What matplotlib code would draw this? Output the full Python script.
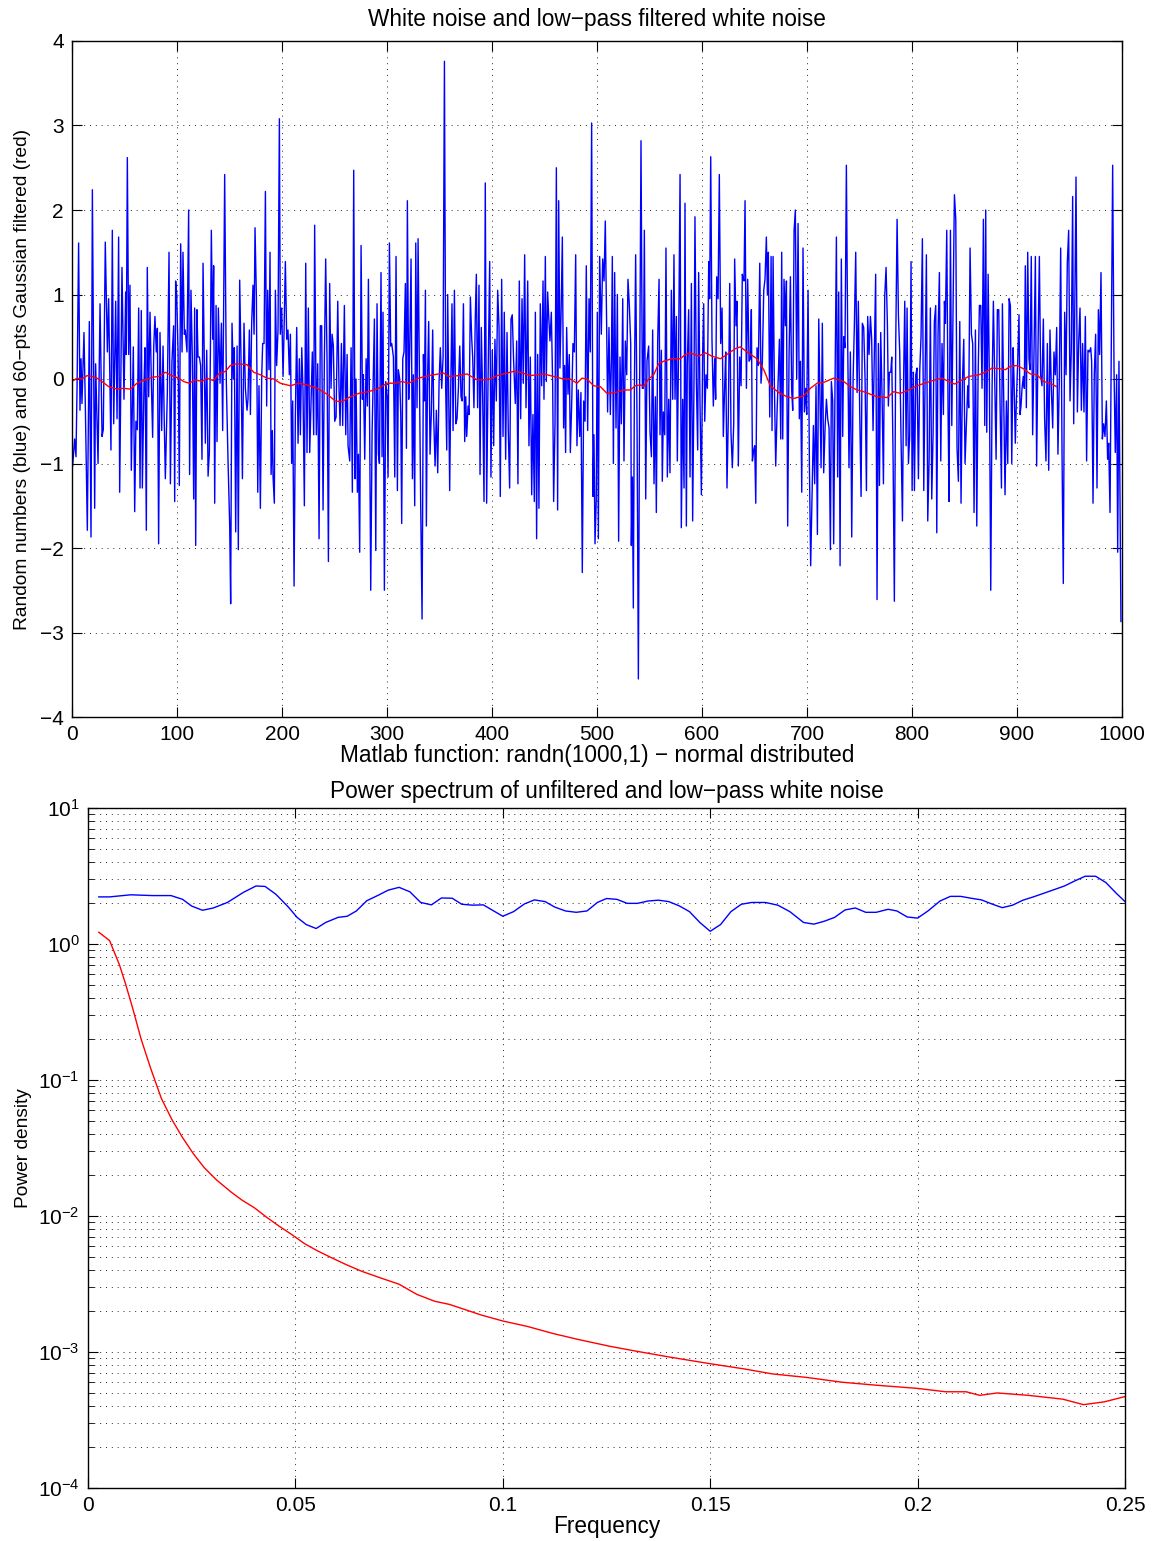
import matplotlib
matplotlib.use('Agg')
import matplotlib.pyplot as plt
from matplotlib.ticker import FixedLocator, LogLocator, NullFormatter, FuncFormatter

plt.rcParams['font.family'] = ['Liberation Sans', 'DejaVu Sans']

# ---------------- data: top panel (white noise) ----------------
noise_seg1 = [(0.6,-1.03),(2.5,-0.71),(3.8,-0.92),(4.8,-0.11),(6.3,1.61),(7.6,-0.37),(8.6,0.24),(9.5,-0.29),(11.4,0.55),(12.7,-0.32),(14.6,-1.79),(16.5,0.68),(18.1,-1.87),(19.4,2.24),(21.6,-1.53),(22.5,0.18),(24.8,-1.0),(26.7,0.89),(28.6,-0.68),(29.8,-0.6),(31.7,1.62),(33.7,0.32),(34.9,0.95),(37.1,-0.84),(38.4,1.76),(39.7,-0.53),(41.6,0.92),(42.9,-0.47),(44.4,1.68),(45.4,-1.34),(47.6,1.32),(49.5,-0.24),(51.1,1.03),(51.7,0.29),(52.7,2.62),(54,0.29),(55.2,1.11),(56.5,-1.08),(58.4,0.38),(59.7,-1.57),(60.9,-0.5),(62.2,-0.6),(63.5,0.84),(64.8,-1.29),(66,0.81),(67,-1.29),(68.6,-0.05),(69.5,0.37),(70.8,-1.79),(71.7,1.32),(73,-0.21),(74.3,0.79),(75.6,-0.05),(76.8,-0.69),(77.8,0.37),(79,0.74),(80.3,0.32),(81.3,0.6),(82.5,-1.95),(83.8,0.55),(85.4,-0.61),(86.7,0.39),(87.9,-0.53),(88.9,-1.18),(90.8,-0.16),(92.4,1.5),(93.7,-1.24),(95.2,0.21),(96.8,0.63),(97.8,-1.45),(98.7,1.16),(99.7,1.0),(101,0.32),(102.2,-1.26),(103.5,1.6),(104.8,0.32),(105.7,1.5),(107,0.53),(107.9,0.58),(109.5,0.32),(111.1,2.0),(112,-1.13),(113.3,1.05),(114.6,0.26),(115.9,-1.42),(116.8,0.84),(117.8,-1.97),(119,0.82),(120,0.26),(121.3,0.26),(122.5,0.16),(123.8,-0.95),(124.8,1.37)]
noise_seg2 = [(127.0,-0.76),(128.3,0.34),(129.6,-1.15),(130.8,-0.87),(131.8,0.32),(132.7,1.76),(134.0,0.47),(134.9,1.34),(135.9,-1.47),(137.2,0.87),(138.1,-0.74),(139.4,0.84),(141.0,-0.05),(142.3,0.66),(143.5,-0.61),(145.4,2.42),(147.0,-0.05),(148.6,-0.97),(150.2,-1.74),(151.1,-2.66),(152.4,0.66),(153.7,0.0),(154.6,0.37),(155.9,-1.81),(157.2,0.39),(158.4,-2.02),(159.7,1.17),(161.0,0.21),(162.3,-1.18),(163.8,0.66),(165.1,-0.11),(166.7,-0.37),(167.6,-0.24),(168.9,0.58),(169.9,-0.42),(171.1,0.66),(172.4,1.11),(173.4,0.53),(174.3,1.79),(175.6,0.97),(176.9,-1.34),(178.1,-0.08),(179.4,-1.53),(180.7,0.05),(181.6,0.42),(182.9,0.42),(184.2,2.22),(185.4,-0.32),(186.4,1.05),(187.6,0.11),(188.6,1.5),(189.6,-1.13),(190.8,-0.61),(191.5,-1.16),(192.7,-1.47),(193.7,1.05),(194.9,0.16),(196.2,0.58),(197.5,3.08),(198.4,0.53),(199.7,0.84),(201.0,0.03),(201.9,0.53),(203.2,1.39),(204.5,0.47),(205.7,0.58),(207.0,0.05),(208.0,0.53),(209.2,-1.0),(210.2,-0.26),(211.5,-2.45),(212.7,-0.47),(214.0,0.61),(215.3,-0.76),(216.5,0.24),(217.5,-0.66),(218.8,0.37),(220.0,-0.13),(221.3,-1.5),(222.6,1.37),(223.8,-0.87),(225.1,0.84),(226.4,-0.87),(227.6,-0.29),(228.9,0.32),(230.2,-0.66),(231.1,1.82),(232.7,-0.66),(234.0,0.18),(235.3,-1.89),(236.5,0.63),(237.8,0.63),(239.1,-1.55),(240.3,0.18),(241.6,1.42),(242.9,0.21),(244.2,-2.16),(245.4,1.13),(246.7,-0.11),(247.7,0.53)]
noise_seg3 = [(248.9,0.39),(250.2,-0.5),(251.5,-0.45),(253.1,0.92),(254.3,-0.11),(255.3,-0.55),(256.6,0.42),(257.8,-0.55),(259.4,0.87),(260.7,-0.66),(262.0,0.29),(262.9,-0.79),(264.5,-0.97),(265.8,0.37),(267.0,-1.34),(268.3,2.47),(269.6,-1.18),(270.5,0.0),(271.8,-1.34),(272.8,-0.89),(274.0,-2.05),(275.3,1.58),(276.6,-0.24),(277.5,0.05),(278.8,-0.95),(280.1,0.24),(281.3,-0.32),(282.3,1.18),(283.5,-0.61),(284.5,-2.5),(285.8,-0.63),(286.7,-0.11),(288.0,0.71),(289.3,-2.03),(290.5,0.89),(291.8,-0.89),(292.8,-1.0),(294.3,1.26),(295.3,-0.92),(296.2,0.79),(297.5,-2.5),(298.8,-0.03),(300.1,-0.21),(301.0,-1.16),(302.3,1.61),(303.5,0.39),(304.5,0.42),(306.1,0.26),(307.4,-1.16),(308.6,1.45),(309.9,-1.32),(310.8,0.11),(312.1,0.0),(313.1,-0.42),(314.0,-1.71),(315.0,0.24),(316.2,0.32),(317.5,1.13),(318.5,-0.82),(319.4,2.11),(320.7,-0.24),(321.6,0.32),(322.9,1.42),(324.2,-1.18),(325.1,0.05),(326.4,-1.5),(327.4,1.61),(328.6,-0.34),(329.6,1.66),(330.8,0.16),(332.1,-1.5),(333.4,-2.84),(334.7,0.29),(335.6,-0.26),(336.6,1.05),(337.5,-1.74),(338.5,-0.08),(339.7,0.68),(341.0,-0.89),(342.3,-0.37),(343.5,0.58),(344.5,-0.47),(345.8,-1.03),(347.0,-0.37),(348.3,-1.11),(349.6,-0.03),(350.8,0.37),(352.1,-0.11),(353.4,0.26),(354.7,3.76),(355.9,-0.11),(356.9,-0.84),(357.8,1.0),(359.7,-1.32),(360.7,-0.11),(361.9,0.89),(362.9,-0.61),(364.2,1.05),(365.5,-0.53),(366.7,-0.47),(368.0,-0.11),(369.3,0.39),(370.5,-0.21),(371.5,-0.26),(372.8,0.89),(374.0,-0.74),(375.0,-0.21),(375.9,-0.68),(377.2,-0.32),(378.2,-0.42),(379.4,0.97),(380.7,0.47),(381.6,0.26)]
noise_seg4 = [(382.8,-0.34),(384.1,0.74),(385.1,1.24),(386.3,-0.34),(387.6,1.11),(388.6,-1.13),(389.8,0.61),(391.1,-0.21),(392.4,-1.45),(393.6,2.32),(394.9,-1.47),(396.2,-0.05),(397.8,1.39),(399.0,-1.16),(400.3,0.34),(401.6,-0.79),(402.8,0.47),(404.1,-0.26),(405.4,1.05),(406.7,0.61),(407.9,-1.39),(409.2,1.18),(410.5,-0.68),(411.7,0.79),(413.0,-0.95),(414.3,0.55),(415.5,-0.61),(416.8,-1.29),(418.1,0.71),(419.3,0.76),(420.6,0.21),(422.2,-0.29),(423.5,0.45),(424.7,-1.24),(426.0,1.16),(427.3,-0.47),(428.6,0.95),(429.8,-0.05),(431.1,1.47),(432.4,-0.34),(434.0,1.16),(435.2,-0.79),(436.5,0.26),(437.8,-1.37),(439.0,-0.42),(440.3,-1.45),(441.3,0.79),(442.5,-1.89),(443.5,0.29),(444.7,-1.53),(446.0,0.89),(447.3,-0.08),(448.6,1.16),(449.5,-0.24),(450.8,1.45),(451.7,-0.03),(453.0,1.03),(454.0,0.74),(455.2,0.45),(456.5,0.79),(457.8,-0.08),(458.7,-1.45),(460.0,-0.53),(461.3,2.5),(462.5,-1.55),(463.5,2.11),(464.7,0.13),(466.0,0.92),(467.0,1.68),(468.2,-0.58),(469.2,0.16),(470.1,-0.87),(471.1,0.61),(472.4,-0.18),(473.6,0.29),(474.6,-0.87),(475.9,-0.29),(477.1,0.42),(478.4,0.32),(479.7,1.47),(480.9,-0.79),(482.2,-0.13),(483.5,-0.68),(484.7,-0.16),(486.0,-2.29),(487.3,-0.26),(488.6,-0.5),(489.8,1.34),(491.1,-0.61),(492.4,0.95),(493.6,0.32),(494.9,3.03),(496.2,-1.39),(497.1,-0.66),(498.1,-1.95),(499.3,-1.42),(500.3,0.79),(501.3,-1.89),(502.5,1.45),(504.1,0.53),(505.4,1.42),(506.7,1.16),(507.9,1.87),(509.2,0.63),(510.1,-0.39)]
noise_seg5 = [(511.4,0.61),(512.7,-0.42),(513.7,0.21),(514.6,1.45),(515.6,-1.0),(516.8,1.26),(518.1,-0.58),(519.4,1.0),(520.6,-1.92),(521.9,0.26),(523.2,-0.53),(524.5,0.95),(525.7,-0.97),(527.0,0.45),(528.3,0.05),(529.5,1.18),(530.8,0.87),(532.1,0.42),(532.7,-1.97),(533.7,-1.16),(534.6,-2.71),(535.6,-0.11),(536.8,1.47),(538.1,-0.47),(539.4,-3.55),(540.6,-0.11),(541.9,2.82),(543.2,-0.11),(544.1,-0.11),(545.1,1.76),(546.4,-1.42),(547.6,0.21),(549.2,0.39),(550.5,-0.63),(551.8,-0.92),(553.0,0.58),(554.3,-1.24),(555.6,-0.21),(556.5,-1.58),(557.8,0.45),(559.1,1.18),(560.0,-0.66),(561.3,0.34),(562.2,-1.21),(563.2,-0.39),(564.5,-0.66),(565.7,1.55),(567.0,-1.16),(568.3,-0.24),(569.5,-1.11),(570.8,1.05),(572.1,-0.24),(573.3,1.47),(574.3,-0.24),(575.6,0.74),(576.5,-0.97),(577.8,0.47),(579.1,2.42),(580.3,-1.76),(581.6,-0.24),(582.9,-1.29),(583.8,2.08),(585.1,-1.74),(586.0,0.18),(587.3,0.82),(588.6,-1.16),(589.9,1.13),(591.1,-1.68),(592.4,0.0),(593.3,1.92),(594.6,0.0),(595.9,-0.84),(596.8,1.26),(598.1,-0.29),(599.4,-1.37),(600.6,0.29),(601.6,0.89),(602.6,-0.5),(603.8,0.05),(605.1,-0.11),(606.4,1.39),(607.3,0.95),(608.3,2.63),(609.5,0.47),(610.8,-0.32),(612.1,0.24),(613.0,-0.24),(614.0,1.21),(615.3,0.95),(616.5,2.42),(617.8,0.42),(619.1,0.84),(620.3,-0.68),(621.6,-0.08),(622.6,0.32),(623.8,-1.29),(625.1,-0.42),(626.4,1.13),(627.6,-0.63),(628.9,-1.05),(630.2,-0.53),(631.1,1.42),(632.4,0.63),(633.3,0.92),(634.6,-1.03),(635.9,0.26),(637.2,-0.08),(638.4,1.24)]
noise_seg6 = [(638.8,1.21),(640.0,1.16),(641.0,2.11),(642.3,-0.11),(643.5,1.18),(644.8,0.21),(646.1,0.24),(647.0,0.82),(648.0,-0.97),(649.2,-0.84),(650.2,-0.79),(651.2,-1.47),(652.4,0.37),(653.7,0.16),(655.0,1.37),(656.2,-0.05),(657.5,0.21),(658.8,1.05),(660.0,1.18),(661.3,1.68),(662.3,1.0),(663.2,1.5),(664.5,-0.45),(665.8,1.45),(666.7,-0.61),(667.7,1.45),(668.9,-0.05),(670.2,-1.03),(671.5,-0.39),(672.7,0.05),(673.7,0.47),(675.0,-0.71),(675.9,1.5),(676.9,-0.71),(678.1,1.18),(679.4,0.63),(680.4,1.16),(681.6,-1.74),(682.9,0.26),(684.2,1.21),(685.4,-0.13),(686.4,-0.37),(687.7,1.76),(688.9,2.0),(690.2,0.0),(691.5,1.84),(692.7,-0.47),(693.7,0.21),(695.0,-1.34),(696.2,1.55),(697.5,-0.39),(698.8,-0.11),(699.7,-0.42),(701.0,1.05),(702.3,-1.03),(703.5,-2.21),(704.8,-1.37),(706.1,-0.55),(707.3,-1.24),(708.6,-0.08),(709.9,-1.84),(711.2,0.71),(712.4,-0.26),(713.4,-1.05),(714.6,0.66),(715.9,-1.11),(717.2,-0.58),(718.5,-0.24),(719.7,-0.47),(721.0,-0.58),(722.3,-2.02),(723.2,-0.03),(724.5,-0.26),(725.4,-1.95),(726.7,-0.05),(728.0,1.68),(729.2,-1.16),(730.2,1.03),(731.5,-2.21),(732.7,1.42),(734.0,-0.68),(735.0,0.5),(736.2,0.37),(737.5,2.53),(738.8,0.39),(740.0,-1.05),(741.3,0.32),(742.6,-1.87),(743.9,0.0),(745.1,0.63),(746.4,1.5),(747.7,-0.16),(748.9,0.92),(750.2,-0.39),(751.5,-1.39),(752.7,0.66),(754.0,0.61),(755.3,0.0),(756.6,-1.32),(757.8,0.74),(759.1,0.29),(760.4,0.74),(761.6,0.47),(762.9,-0.61),(764.2,0.34),(765.4,1.24),(766.7,-2.61),(768.0,0.42)]
noise_seg7 = [(769.0,-1.26),(770.2,0.55),(771.5,-0.21),(772.8,-1.24),(774.0,0.97),(775.3,1.32),(776.6,0.63),(777.5,-0.32),(778.5,0.08),(779.8,0.08),(780.7,0.26),(782.0,-0.95),(783.2,-2.63),(784.5,0.42),(785.8,1.89),(787.1,0.74),(788.3,0.32),(789.6,-0.74),(790.9,-1.68),(792.1,0.08),(793.1,0.92),(794.4,-0.79),(795.3,0.84),(796.6,-1.0),(797.8,-0.68),(799.1,1.39),(800.1,-1.32),(801.3,0.08),(802.3,-1.32),(803.6,0.05),(804.8,0.13),(806.1,-1.18),(807.4,0.11),(808.6,0.5),(809.9,1.66),(811.2,-1.32),(812.5,0.03),(813.7,1.47),(815.0,-1.68),(816.3,-0.95),(817.5,0.84),(818.8,-1.42),(820.1,-0.63),(821.3,0.68),(822.6,0.87),(823.6,-1.82),(824.8,0.53),(826.1,1.26),(827.4,-0.97),(828.6,0.42),(829.9,-0.42),(830.9,0.92),(831.8,0.66),(833.1,1.76),(834.4,-0.45),(835.3,-1.45),(836.6,1.76),(837.9,-0.55),(839.1,0.84),(840.4,2.18),(841.7,1.89),(842.9,-0.82),(844.2,-1.21),(845.5,0.68),(846.7,-1.47),(848.0,-0.05),(849.3,0.47),(850.5,-1.0),(851.8,-0.53),(853.1,-0.08),(854.0,-0.34),(855.3,1.55),(856.6,0.53),(857.8,0.42),(859.1,-1.58),(860.4,0.58),(861.7,-1.74),(862.9,0.0),(864.2,0.87),(865.5,0.87),(866.7,-0.11),(868.0,1.89),(869.3,-0.55),(870.2,2.0),(871.2,-0.63),(872.5,1.24),(873.7,-0.03),(875.0,-2.5),(876.3,-0.08),(877.5,0.92),(878.8,-0.05),(880.1,-0.95),(881.3,0.82),(882.6,0.82),(883.9,-0.32),(885.2,-1.29),(886.1,0.89),(887.4,-0.26),(888.6,-1.37),(889.9,-0.26),(891.2,-1.0),(892.5,0.95),(893.7,0.87),(895.0,-1.0),(896.3,0.37)]
noise_seg8 = [(897.1,0.03),(898.4,-0.76),(899.4,-0.26),(900.6,0.18),(901.9,0.76),(902.9,-0.42),(903.8,-0.32),(904.8,-0.11),(906.0,0.03),(907.0,-0.11),(907.9,1.34),(908.9,-0.34),(910.2,1.5),(911.4,0.24),(912.4,0.11),(913.6,1.45),(914.9,-0.66),(916.2,0.32),(917.5,1.45),(918.7,-1.03),(920.0,0.37),(921.3,1.45),(922.5,0.05),(923.8,-0.08),(925.1,0.71),(926.3,-0.47),(927.6,-0.97),(928.9,0.42),(930.2,-1.08),(931.4,0.58),(932.7,-0.11),(934.0,-0.58),(935.2,0.32),(936.5,0.05),(937.8,0.61),(939.0,-0.89),(940.3,0.0),(941.6,1.55),(942.9,-0.92),(944.1,-2.42),(945.4,0.79),(946.7,0.05),(947.9,1.37),(949.2,1.76),(950.5,-0.26),(951.7,0.34),(953.0,2.16),(954.0,-0.53),(954.9,0.71),(956.2,2.39),(957.5,-0.39),(958.7,0.42),(960.0,0.84),(961.3,-0.37),(962.5,0.42),(963.8,-0.39),(965.1,0.74),(966.3,-0.97),(967.6,0.34),(968.9,0.32),(970.2,0.37),(971.1,0.21),(972.4,-1.47),(973.6,0.05),(974.9,0.53),(976.2,-1.29),(977.5,0.82),(978.7,0.29),(980.0,1.26),(981.3,-0.71),(982.5,-0.53),(983.8,-0.68),(985.1,-0.26),(986.3,-0.95),(987.3,-0.76),(988.6,-1.58),(989.8,0.42),(991.1,2.53),(992.4,0.11),(993.6,-0.87),(994.9,0.05),(995.9,-2.05),(997.1,0.21),(999.0,-2.87)]

# Gaussian filtered series (red)
filt_pts = [(0,-0.03),(4.8,0.01),(9.5,0.0),(14.3,0.04),(19,0.03),(23.8,0.01),(28.6,-0.03),(34.9,-0.09),(42.9,-0.12),(49.2,-0.11),(55.6,-0.12),(61.9,-0.05),(69.8,-0.01),(76.2,0.02),(82.5,0.03),(88.9,0.08),(95.2,0.04),(101.6,0.01),(106.3,-0.03),(111.7,-0.05),(117.5,-0.01),(123.8,-0.03),
            (128.6,0.01),(134.9,-0.02),(139.7,0.06),(146.1,0.09),(150.8,0.16),(157.2,0.18),(166.7,0.17),(173.0,0.08),(179.4,0.05),(185.7,0.01),(192.1,0.0),(198.4,-0.05),(208.0,-0.08),(215.9,-0.05),(223.8,-0.07),(233.4,-0.11),(242.9,-0.18),
            (250.8,-0.26),(257.2,-0.27),(263.5,-0.22),(273.1,-0.17),(282.6,-0.15),(292.1,-0.11),(300.1,-0.05),(308.0,-0.05),(314.3,-0.03),(320.7,-0.05),(330.2,0.01),(339.7,0.04),(349.3,0.06),(354.0,0.07),(358.8,0.03),(368.3,0.04),(376.2,0.06),
            (385.7,-0.01),(392,-0.01),(398.4,0.0),(404.7,0.04),(411.1,0.06),(420.6,0.09),(427,0.08),(436.5,0.04),(449.2,0.06),(458.7,0.03),(468.2,0.0),(474.6,0.0),(480.9,-0.05),(485.7,0.01),(490.5,0.0),(496.8,-0.08),(503.2,-0.09),
            (509.5,-0.17),(517.5,-0.16),(525.4,-0.13),(531.8,-0.13),(536.5,-0.08),(541.3,-0.07),(544.5,-0.09),(549.2,0.0),(554.0,0.05),(558.7,0.18),(563.5,0.21),(571.4,0.24),(579.4,0.24),(584.1,0.29),(588.9,0.31),(596.8,0.27),(603.2,0.31),(609.5,0.27),(617.5,0.24),(623.8,0.29),(631.8,0.36),
            (636.5,0.38),(642.9,0.32),(652.4,0.24),(658.8,0.11),(665.1,-0.08),(673.1,-0.16),(681.0,-0.21),(687.3,-0.23),(696.9,-0.2),(703.2,-0.11),(709.6,-0.05),(715.9,-0.04),(725.4,0.01),(735,-0.03),(741.3,-0.09),(747.7,-0.13),(754,-0.15),(760.4,-0.18),
            (766.7,-0.21),(776.3,-0.22),(782.6,-0.15),(789,-0.17),(796.9,-0.13),(804.8,-0.08),(814.4,-0.04),(822.3,-0.01),(828.6,0.01),(835,-0.03),(840.7,-0.06),(847.7,-0.01),(854,0.03),(863.6,0.05),(869.9,0.08),(876.3,0.13),(884.2,0.12),(889,0.11),
            (893.6,0.15),(900,0.16),(906.3,0.12),(912.7,0.06),(919,0.05),(925.4,-0.03),(931.7,-0.05),(937.5,-0.09)]

top_xticks = [0, 100, 200, 300, 400, 500, 600, 700, 800, 900, 1000]
top_yticks = [-4, -3, -2, -1, 0, 1, 2, 3, 4]

# ---------------- data: bottom panel (power spectra) ----------------
freq_blue = [0.0026,0.0052,0.0103,0.0155,0.02,0.0228,0.025,0.0276,0.0302,0.0336,0.0375,0.0405,0.0427,0.0453,0.0483,0.0504,0.0526,0.055,0.0573,0.0603,0.0625,0.0647,0.0672,0.0698,0.0724,0.075,0.0776,0.0802,0.0828,0.0852,0.0878,0.0901,0.0927,0.0953,0.0978,0.1,0.1026,0.1052,0.1076,0.1102,0.1125,0.1151,0.1177,0.1203,0.1228,0.125,
             0.1275,0.13,0.1325,0.135,0.1375,0.14,0.1425,0.145,0.1475,0.15,0.1525,0.155,0.1575,0.16,0.1633,0.1663,0.1692,0.1725,0.175,0.1775,0.18,0.1825,0.185,0.1875,0.19,0.1929,0.195,0.1975,0.2,0.2025,0.2054,0.2079,0.2104,0.2129,0.2154,0.2179,0.2204,0.2229,0.2254,0.2279,0.2304,0.2329,0.2354,0.2379,0.2404,0.2429,0.2454,0.2479,0.25]
power_blue = [2.22,2.22,2.30,2.27,2.27,2.13,1.90,1.77,1.84,2.02,2.40,2.67,2.65,2.32,1.87,1.57,1.39,1.30,1.44,1.57,1.60,1.75,2.08,2.27,2.49,2.61,2.42,2.02,1.94,2.18,2.17,1.96,1.93,1.94,1.75,1.60,1.73,1.97,2.11,2.05,1.87,1.75,1.71,1.75,2.02,2.16,
              2.13,1.99,1.99,2.07,2.10,2.05,1.91,1.73,1.44,1.24,1.39,1.73,1.96,2.02,2.02,1.93,1.73,1.44,1.40,1.47,1.57,1.78,1.84,1.71,1.71,1.80,1.75,1.58,1.55,1.75,2.07,2.24,2.24,2.17,2.11,1.97,1.85,1.93,2.10,2.22,2.36,2.51,2.67,2.91,3.15,3.15,2.83,2.36,2.05]
freq_red = [0.0026,0.0052,0.0076,0.009,0.0108,0.0128,0.0151,0.0177,0.0203,0.0228,0.0254,0.028,0.031,0.0345,0.0371,0.0401,0.0431,0.0461,0.0491,0.0522,0.0552,0.0586,0.0621,0.066,0.0707,0.075,0.0793,0.0836,0.0871,0.0905,0.0948,0.1,0.106,0.112,0.118,0.1259,
            0.1317,0.14,0.15,0.1583,0.165,0.1733,0.1817,0.19,0.2,0.2067,0.2117,0.215,0.2192,0.2267,0.235,0.24,0.245,0.25]
power_red = [1.22,1.06,0.70,0.515,0.335,0.20,0.122,0.073,0.0507,0.0377,0.0287,0.0227,0.0184,0.0150,0.0131,0.0115,0.00977,0.00841,0.00731,0.00626,0.00557,0.00495,0.00441,0.00392,0.00349,0.00315,0.00265,0.00236,0.00224,0.00207,0.00187,0.00169,0.00154,0.00137,0.00124,0.00110,
             0.00102,0.00092,0.00082,0.00075,0.00069,0.00065,0.00060,0.00057,0.00054,0.00051,0.00051,0.00048,0.00050,0.00048,0.00045,0.00041,0.00043,0.00047]
bottom_xticks = [0, 0.05, 0.1, 0.15, 0.2, 0.25]

# ---------------- figure ----------------
fig = plt.figure(figsize=(11.55, 15.41), dpi=100)
FS_T = 16.3   # titles / x labels
FS_K = 15.0   # tick labels
FS_Y = 13.8   # y labels
grid_kw = dict(color='0.15', linestyle=(0, (1, 5)), linewidth=0.7)

ax1 = fig.add_axes([72/1155, 1-717/1541, 1050/1155, 676/1541])
noise = noise_seg1 + noise_seg2 + noise_seg3 + noise_seg4 + noise_seg5 + noise_seg6 + noise_seg7 + noise_seg8
ax1.plot([p[0] for p in noise], [p[1] for p in noise], color='#0000ff', lw=1.0)
ax1.plot([p[0] for p in filt_pts], [p[1] for p in filt_pts], color='#ff0000', lw=1.0)
ax1.set_xlim(0, 1000)
ax1.set_ylim(-4, 4)
ax1.set_xticks(top_xticks)
ax1.set_yticks(top_yticks)
ax1.grid(True, **grid_kw)
ax1.tick_params(direction='in', top=True, right=True, length=7, labelsize=FS_K, pad=6)
ax1.set_title('White noise and low\u2212pass filtered white noise', fontsize=FS_T, pad=11)
ax1.set_xlabel('Matlab function: randn(1000,1) \u2212 normal distributed', fontsize=FS_T, labelpad=0)
ax1.set_ylabel('Random numbers (blue) and 60\u2212pts Gaussian filtered (red)', fontsize=FS_Y, labelpad=6)

ax2 = fig.add_axes([88/1155, 1-1488/1541, 1037/1155, 680/1541])
ax2.semilogy(freq_blue, power_blue, color='#0000ff', lw=1.0)
ax2.semilogy(freq_red, power_red, color='#ff0000', lw=1.0)
ax2.set_xlim(0, 0.25)
ax2.set_ylim(1e-4, 1e1)
ax2.set_xticks(bottom_xticks)
ax2.xaxis.set_major_formatter(FuncFormatter(lambda v, p: '%g' % v))
ax2.yaxis.set_major_locator(LogLocator(base=10, numticks=10))
ax2.yaxis.set_minor_locator(LogLocator(base=10, subs=range(2, 10), numticks=20))
ax2.yaxis.set_minor_formatter(NullFormatter())
ax2.grid(True, which='major', axis='both', **grid_kw)
ax2.grid(True, which='minor', axis='y', **grid_kw)
ax2.tick_params(which='major', direction='in', top=True, right=True, length=7, labelsize=FS_K, pad=6)
ax2.tick_params(which='minor', direction='in', top=True, right=True, length=4)
ax2.set_title('Power spectrum of unfiltered and low\u2212pass white noise', fontsize=FS_T, pad=7)
ax2.set_xlabel('Frequency', fontsize=FS_T, labelpad=0)
ax2.set_ylabel('Power density', fontsize=FS_Y, labelpad=4)

for ax in (ax1, ax2):
    for s in ax.spines.values():
        s.set_linewidth(1.0)

fig.savefig('out.png', dpi=100)
